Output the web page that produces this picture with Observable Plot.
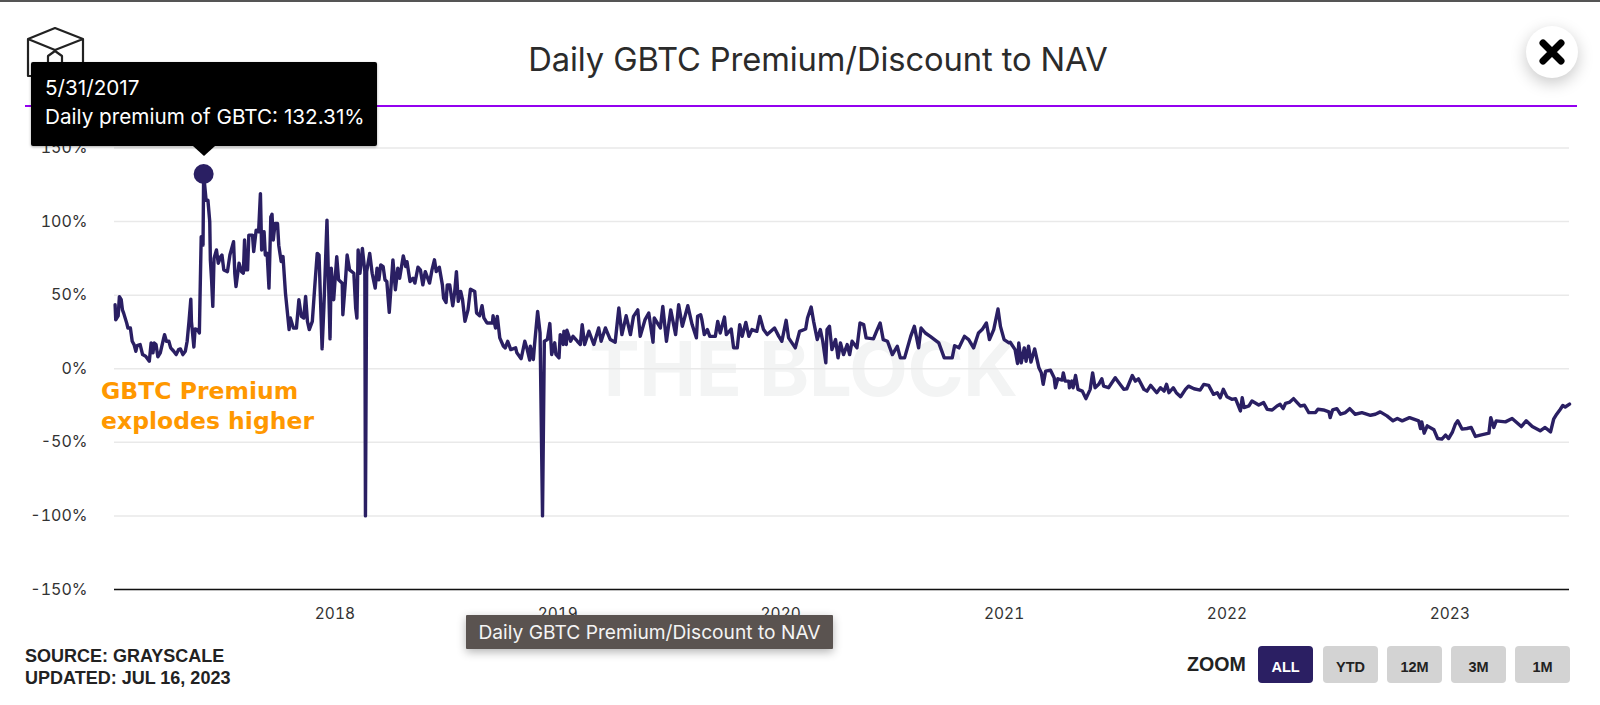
<!DOCTYPE html>
<html><head><meta charset="utf-8">
<script src="https://cdn.jsdelivr.net/npm/d3@7"></script>
<script src="https://cdn.jsdelivr.net/npm/@observablehq/plot@0.6"></script>
<style>
html,body{margin:0;padding:0;background:#fff;overflow:hidden}
#page{position:relative;width:1600px;height:705px;overflow:hidden;font-family:Inter,sans-serif}
#page>*{position:absolute}
#chart{left:0;top:0}
#topbar{left:0;top:0;width:1600px;height:2px;background:#555}
#rule{left:25px;top:105px;width:1552px;height:1.5px;background:#9400f0}
#title{left:0;top:38px;width:1636px;text-align:center;font-size:32.7px;line-height:42px;color:#2b2b2b;letter-spacing:-.1px}
#mark{left:589px;top:326px;font-size:76px;line-height:84px;font-weight:700;color:#f3f4f4;white-space:nowrap;letter-spacing:-.4px}
#tip{left:31px;top:62px;width:346px;height:84px;background:#000;border-radius:2px;color:#fff;box-shadow:0 1px 3px rgba(0,0,0,.35);font-size:20.7px;line-height:29px;padding:11px 0 0 14px;box-sizing:border-box;white-space:nowrap}
#tiparrow{left:193px;top:146px;width:0;height:0;border-left:11px solid transparent;border-right:11px solid transparent;border-top:10px solid #000}
#series{left:466px;top:615px;width:367px;height:34px;background:#5a5350;color:#f4f4f4;font-size:19.2px;line-height:34px;text-align:center;box-shadow:0 3px 10px rgba(0,0,0,.3);white-space:nowrap;border-radius:1px}
#source{left:25px;top:645px;font:bold 18px/22px "Liberation Sans",sans-serif;color:#222;white-space:nowrap}
#zoomlabel{left:1187px;top:652px;font:bold 19.6px/24px "Liberation Sans",sans-serif;color:#222}
.btn{top:646px;width:55px;height:37px;border-radius:4px;background:#d3d3d3;color:#222;font:bold 14.5px/42px "Liberation Sans",sans-serif;text-align:center}
.btn.on{background:#2b1f63;color:#fff}
#close{left:1526px;top:26px;width:52px;height:52px;border-radius:50%;background:#fff;box-shadow:0 5px 16px rgba(0,0,0,.22)}
</style></head><body>
<div id="page">
<div id="mark">THE BLOCK</div>
<div id="chart"></div>
<div id="topbar"></div>
<svg style="left:0;top:0" width="100" height="90" fill="none" stroke="#222" stroke-width="2.2" stroke-linejoin="round"><path d="M28 39 55 28 83 39 55 50ZM28 39V76H83V39M48 76V56L55 51 62 56V76"/></svg>
<div id="rule"></div>
<div id="title">Daily GBTC Premium/Discount to NAV</div>
<div id="tip">5/31/2017<br>Daily premium of GBTC: 132.31%</div>
<div id="tiparrow"></div>
<div id="series">Daily GBTC Premium/Discount to NAV</div>
<div id="source">SOURCE: GRAYSCALE<br>UPDATED: JUL 16, 2023</div>
<div id="zoomlabel">ZOOM</div>
<div class="btn on" style="left:1258px">ALL</div>
<div class="btn" style="left:1323px">YTD</div>
<div class="btn" style="left:1387px">12M</div>
<div class="btn" style="left:1451px">3M</div>
<div class="btn" style="left:1515px">1M</div>
<div id="close"><svg width="52" height="52" stroke="#000" stroke-width="7" stroke-linecap="round"><path d="M17 17 35 35M35 17 17 35"/></svg></div>
</div>
<script>
// [days since 1 Jan 2017, GBTC premium in %]
const early2017 = [[5,43.5],[6,33.3],[10,36],[12,49],[15,46.9],[17,40],[19,37.8],[24,31],[26,27.7],[30,27.7],[33,18.7],[36,16.4],[39,11.9],[41,15.7],[46,16.4],[48,13],[50,9.6],[55,8.5],[61,5.1],[64,17.5],[67,10.8],[69,17.5],[72,16.4],[75,8.1],[79,10.8],[84,19.8],[86,23.2],[89,18.7],[93,18.7],[96,14.2],[101,11.9],[105,9.6],[109,13],[112,13.5],[116,9.6],[120,11.9],[123,18.7],[126,32.2],[129,47.3],[130,32.2],[134,14.8],[136,27],[140,26.6],[143,24.3],[144,46.9],[146,89.7],[148,89.7],[149,84]];
const peak = [[150,132.31]];
const late2017 = [[154,114.5],[157,114.5],[160,99.9],[161,73.9],[163,60.4],[165,42.4],[167,75],[171,80.7],[174,71.7],[178,76.2],[180,77.3],[183,67.2],[189,66],[193,77.3],[199,86.3],[201,64.9],[203,55.9],[208,71.7],[212,66],[215,64.9],[217,87.5],[219,67.2],[222,67.2],[224,90.8],[230,90.8],[232,79.6],[236,94.2],[240,93.1],[243,119],[245,80.7],[249,93.1],[251,77.3],[254,78.4],[257,54.8],[260,103.2],[262,105],[264,87.5],[267,98.7],[271,98.7],[273,84],[277,72.8],[280,76.2],[284,51.4],[290,26.6],[292,34.5],[297,27.7],[302,27.7],[306,46.9],[310,35.6],[314,34.5],[317,49.1],[320,32.2],[323,26.6],[328,32.2],[332,55.9],[336,78.4],[339,77.3],[344,13.5],[347,42.4],[352,101],[357,20.3],[359,68.3],[363,46.9]];
const year2018 = [[368,76.2],[371,60.4],[377,58.1],[378,36.7],[382,58.1],[385,77.3],[389,67.2],[396,64.9],[399,41.2],[401,34.5],[403,80.7],[406,64.9],[410,81.8],[414,66],[415,-100],[417,66],[422,78.4],[426,64.9],[431,54.8],[434,68.3],[437,60.4],[440,70.6],[444,69.4],[447,60.4],[450,59.3],[454,38.3],[460,74],[464,53.7],[468,68.3],[471,61.5],[477,76.7],[481,69.4],[483,72.8],[488,59.3],[493,61.5],[496,58.2],[501,69],[505,67.2],[509,57],[513,66],[520,58.2],[524,67.2],[528,74],[531,66],[536,69],[541,57],[543,48],[547,45],[549,57],[553,57],[558,42.8],[561,51.4],[564,66],[567,45.8],[571,52.5],[574,46.9],[578,32.2],[583,40],[587,54.1],[594,52.5],[597,37.9],[602,36],[606,42.8],[609,34.5],[614,31.1],[623,31.1],[624,36],[628,27.7],[631,35.6],[635,21],[641,15.3],[644,14.2],[648,18.7],[653,13],[661,14.2],[663,10.8],[670,6.8],[676,18.7],[680,13],[684,5.9],[685,15.3],[690,6.3],[692,16.5],[697,39],[701,24.3],[705,-100],[708,18.7],[713,19.8],[717,30.7],[720,9.7],[725,17.6],[727,9.7]];
const year2019 = [[732,7.4],[734,23.2],[739,16.5],[740,25.5],[744,16.5],[745,26.2],[751,18.7],[755,22],[762,18.7],[767,16.5],[770,30],[774,16.5],[781,25.5],[789,16.5],[797,27.7],[801,18.7],[808,27.7],[816,19.8],[824,18],[830,41.3],[835,23.2],[842,36],[849,23.2],[854,35.6],[861,40],[865,22],[873,33.4],[879,37.9],[886,18],[888,34.5],[898,27.7],[902,42.4],[908,18.7],[915,40],[923,23.2],[928,43.5],[934,28.9],[943,42.8],[950,30],[957,21],[959,35.6],[964,36.7],[966,33.3],[970,23.2],[975,26.6],[979,22],[988,22],[992,32.2],[996,24.3],[1003,35.1],[1006,23.2],[1014,27],[1018,14.2],[1024,14.2],[1028,30],[1032,22],[1038,31.5],[1043,22],[1048,26.6],[1056,25.4],[1061,35.6],[1067,26.6],[1073,23.2],[1085,27.7],[1092,22]];
const year2020 = [[1097,18.7],[1104,32.9],[1108,21],[1119,14.2],[1126,25.4],[1136,27],[1139,34.5],[1145,41.9],[1149,32.2],[1155,19.8],[1160,26.6],[1164,18.7],[1169,4],[1171,26.6],[1175,28.8],[1179,13],[1185,19.8],[1189,7.4],[1193,17.6],[1198,9.6],[1204,16.4],[1208,9.6],[1212,18.7],[1220,14.2],[1225,31.1],[1231,30],[1235,21],[1247,20.3],[1252,25.4],[1258,31.1],[1263,19.8],[1270,18.7],[1278,9.6],[1286,15.3],[1291,7.4],[1298,7.4],[1308,22],[1314,28.8],[1321,14.2],[1325,27.7],[1332,24.3],[1340,22],[1354,17.6],[1363,7.4],[1376,7.4],[1380,15.7],[1387,14.2],[1396,22],[1403,19.8],[1411,14.2],[1419,24.3],[1425,26.6],[1432,31.1],[1437,19.8],[1444,26.6],[1451,40.6],[1455,28.8]];
const year2021 = [[1461,19.8],[1469,17.6],[1471,18],[1479,13],[1483,3.6],[1485,17.5],[1489,4],[1494,14.2],[1497,5.1],[1501,15.3],[1505,4.5],[1511,13.5],[1518,0.6],[1522,-2.8],[1525,-10.6],[1529,-1.6],[1537,-1],[1543,-6.1],[1545,-12.9],[1549,-6.8],[1556,-7.7],[1558,-2.8],[1561,-8.4],[1567,-8.4],[1568,-12.9],[1572,-8.4],[1574,-12.9],[1578,-4.6],[1582,-14],[1589,-15.2],[1595,-20.3],[1602,-14],[1606,-2.8],[1610,-12.9],[1616,-10.6],[1621,-6.8],[1624,-11.8],[1632,-12.9],[1643,-6.1],[1649,-9.5],[1657,-14],[1662,-13.6],[1671,-4.6],[1676,-8.4],[1681,-6.8],[1690,-14],[1695,-15.2],[1701,-11.3],[1711,-16.3],[1717,-12.9],[1723,-15.2],[1727,-10.6],[1731,-16.3],[1738,-12.9],[1743,-16.3],[1750,-19],[1758,-14],[1763,-11.8],[1772,-13.6],[1782,-14.5],[1788,-10.6],[1796,-11.3],[1804,-17.4],[1810,-16.3],[1815,-19.7],[1820,-14]];
const year2022 = [[1826,-19],[1834,-20.8],[1840,-20.3],[1848,-28.7],[1851,-19.7],[1854,-26.4],[1862,-25.3],[1867,-21.9],[1878,-24.6],[1886,-23],[1892,-27.6],[1900,-28],[1908,-25.3],[1913,-24.2],[1918,-27.1],[1922,-23.5],[1929,-22.6],[1935,-20.3],[1941,-23],[1946,-25.3],[1953,-24.8],[1960,-29.8],[1971,-29.8],[1975,-27.5],[1984,-28],[1993,-29.3],[1995,-33.2],[1999,-28],[2006,-27.1],[2012,-30.9],[2020,-29.8],[2027,-27.1],[2036,-30.9],[2047,-29.8],[2061,-31.6],[2069,-30.9],[2077,-29.3],[2088,-32],[2098,-35.4],[2105,-33.8],[2113,-35.4],[2125,-33.2],[2140,-35.4],[2143,-40.6],[2145,-36.1],[2149,-43.8],[2154,-38.8],[2165,-41.5],[2171,-47.4],[2178,-47.8],[2184,-45.1],[2189,-47.4]];
const year2023 = [[2195,-43.3],[2200,-37.7],[2204,-35.4],[2211,-41],[2219,-40.6],[2226,-39.9],[2233,-46],[2241,-45.1],[2255,-43.8],[2258,-33.2],[2263,-39.9],[2267,-35.4],[2282,-36.1],[2293,-33.8],[2308,-39.3],[2316,-35.4],[2326,-39.3],[2339,-42.2],[2347,-39.9],[2356,-42.9],[2361,-34.3],[2366,-30.9],[2372,-27.5],[2376,-25],[2380,-26],[2387,-24]];
const yTicks = [-150,-100,-50,0,50,100,150];
const xTickYears = [2018,2019,2020,2021,2022,2023];
const noteLines = ["GBTC Premium","explodes higher"];

const toDate = d => new Date(Date.UTC(2017,0,1+d));
const series = [...early2017,...peak,...late2017,...year2018,...year2019,...year2020,...year2021,...year2022,...year2023]
  .map(([d,v]) => ({date:toDate(d),value:v}));
const peakRow = peak.map(([d,v]) => ({date:toDate(d),value:v}));
const notes = noteLines.map((t,i) => ({t,date:toDate(-18),value:[-15.5,-36][i]}));

const plot = Plot.plot({
  width:1600,height:705,
  marginLeft:114,marginRight:31,marginTop:147.5,marginBottom:116,
  style:{fontFamily:"Inter,sans-serif",fontSize:"15px",color:"#333",background:"transparent"},
  x:{type:"utc",domain:[toDate(4),toDate(2387)]},
  y:{domain:[-150,150]},
  marks:[
    Plot.gridY(yTicks,{stroke:"#e9e9e9",strokeOpacity:1,strokeWidth:1.5}),
    Plot.ruleY([-150],{stroke:"#111",strokeWidth:1.6}),
    Plot.axisY({ticks:yTicks,tickSize:0,tickPadding:27,tickFormat:d=>d+"%",label:null,fontSize:16}),
    Plot.axisX({ticks:xTickYears.map(y=>new Date(Date.UTC(y,0,1))),tickSize:0,tickPadding:18,tickFormat:d=>String(d.getUTCFullYear()),label:null,fontSize:15.5}),
    Plot.line(series,{x:"date",y:"value",stroke:"#2a1f63",strokeWidth:3.4,strokeLinejoin:"round"}),
    Plot.dot(peakRow,{x:"date",y:"value",r:10,fill:"#2a1f63"}),
    Plot.text(notes,{x:"date",y:"value",text:"t",textAnchor:"start",fill:"#ff9800",fontWeight:"bold",fontSize:23.5,fontFamily:"DejaVu Sans"})
  ]
});
document.getElementById("chart").append(plot);
</script>
</body></html>
